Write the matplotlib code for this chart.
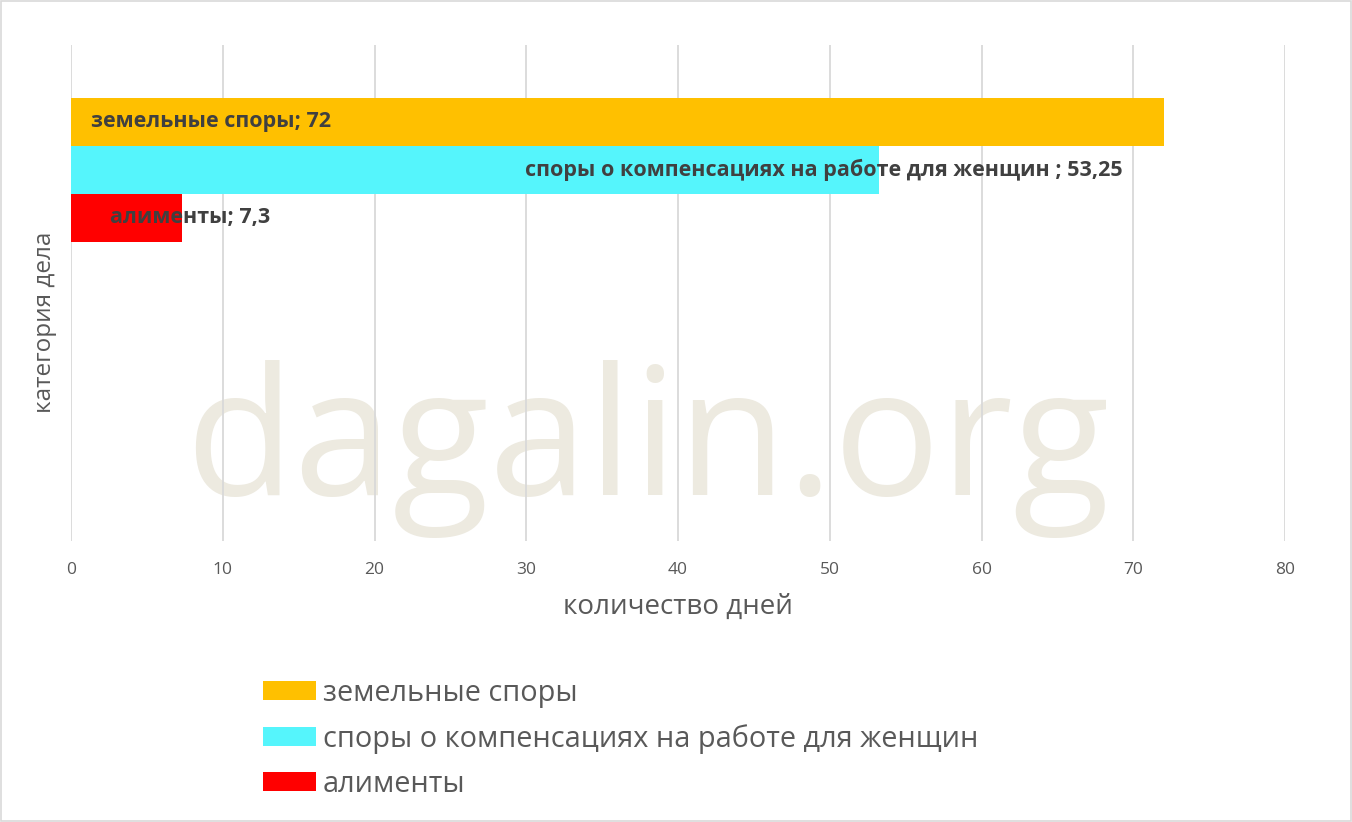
import matplotlib.pyplot as plt
from matplotlib.patches import Rectangle

# data
series_names = ['земельные споры', 'споры о компенсациях на работе для женщин', 'алименты']
series_values = [72, 53.25, 7.3]
value_labels = ['72', '53,25', '7,3']
series_colors = ['#FFC000', '#55F5FC', '#FF0000']
x_ticks = [0, 10, 20, 30, 40, 50, 60, 70, 80]

plt.rcParams['font.family'] = ['Open Sans', 'DejaVu Sans']

fig = plt.figure(figsize=(13.52, 8.22), dpi=100)
ax = fig.add_axes([0.0525, 0.3418, 0.898, 0.6035])

# watermark (behind grid)
ax.text(0.479, 0.398, 'dagalin.org', transform=fig.transFigure, ha='center',
        va='baseline', fontsize=128, color='#EDEAE0', zorder=0.1)

bars = []
for i, (name, val, col) in enumerate(zip(series_names, series_values, series_colors)):
  b = ax.barh(i, val, height=1.0, color=col, label=name, zorder=2)
  bars.append(b)

# data labels (manually placed like in the source)
label_x = [1.3, None, 2.55]
for i, (name, lab) in enumerate(zip(series_names, value_labels)):
  sep = ' ; ' if i == 1 else '; '
  txt = name + sep + lab
  if label_x[i] is None:
    ax.text(69.3, i, txt, ha='right', va='center', fontsize=15.5,
            fontweight='bold', color='#404040', zorder=4)
  else:
    ax.text(label_x[i], i, txt, ha='left', va='center', fontsize=15.5,
            fontweight='bold', color='#404040', zorder=4)

ax.set_xlim(0, 80)
ax.set_ylim(8.73, -1.60)
ax.set_xticks(x_ticks)
ax.set_yticks([])
ax.tick_params(axis='x', length=0, pad=15, labelsize=12.5, labelcolor='#595959')
ax.grid(axis='x', color='#D9D9D9', linewidth=1.3, zorder=0.5)
ax.set_axisbelow(True)
for s in ax.spines.values():
  s.set_visible(False)
ax.patch.set_alpha(0)

ax.set_xlabel('количество дней', fontsize=20, color='#595959')
ax.xaxis.set_label_coords(0.5, -0.105)
ax.set_ylabel('категория дела', fontsize=17.5, color='#595959')
ax.yaxis.set_label_coords(-0.0115, 0.44)

leg = ax.legend(loc='upper left', bbox_to_anchor=(0.1945, 0.1745),
                bbox_transform=fig.transFigure, frameon=False,
                fontsize=20.8, handlelength=1.82, handleheight=0.62,
                handletextpad=0.25, labelspacing=0.56, borderpad=0,
                borderaxespad=0)
for t in leg.get_texts():
  t.set_color('#595959')

fig.patches.append(Rectangle((0.001, 0.001), 0.998, 0.998, transform=fig.transFigure,
                             fill=False, edgecolor='#D9D9D9', linewidth=1.2))

fig.savefig('out.png', dpi=100)
